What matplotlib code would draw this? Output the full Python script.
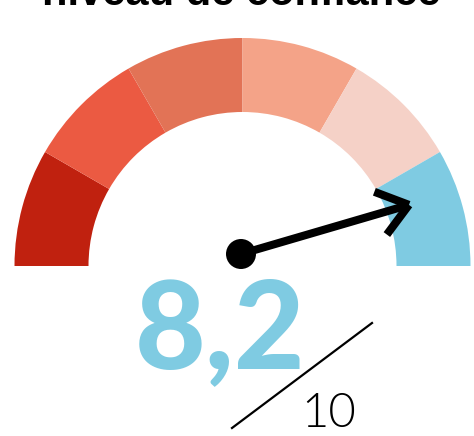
import numpy as np
import matplotlib
matplotlib.use("Agg")
import matplotlib.pyplot as plt
from matplotlib.patches import Wedge, Circle

title = "niveau de confiance"
segment_colors = ["#C0210F", "#EB5A42", "#E27356", "#F4A388", "#F5D1C7", "#7FCBE2"]
score_label = "8,2"
max_label = "10"
score = 8.2

W, H = 474, 436
fig = plt.figure(figsize=(W / 100, H / 100), dpi=100)
ax = fig.add_axes([0, 0, 1, 1])
ax.set_xlim(0, W)
ax.set_ylim(0, H)
ax.set_aspect("equal")
ax.axis("off")

cx, cy = 242.5, 170
r_out, r_in = 228, 154
n = len(segment_colors)
for i, c in enumerate(segment_colors):
    t1 = 180 - i * 180 / n
    t0 = 180 - (i + 1) * 180 / n
    ax.add_patch(Wedge((cx, cy), r_out, t0, t1, width=r_out - r_in,
                       facecolor=c, edgecolor="none"))

# needle
px, py = 241, 182
ang = np.deg2rad(16.3)
L = 175
tx, ty = px + L * np.cos(ang), py + L * np.sin(ang)
ax.plot([px, tx - 4 * np.cos(ang)], [py, ty - 4 * np.sin(ang)], color="black",
        lw=5.8, solid_capstyle="butt", zorder=3)
back = ang + np.pi
for d in (-37, 37):
    a = back + np.deg2rad(d)
    ax.plot([tx, tx + 37 * np.cos(a)], [ty, ty + 37 * np.sin(a)], color="black",
            lw=5.8, solid_capstyle="butt", solid_joinstyle="miter", zorder=3)
ax.add_patch(Circle((px, py), 15, facecolor="black", edgecolor="none", zorder=4))

ax.text(W / 2 + 4, H - 5, title, ha="center", va="baseline", fontsize=30,
        fontweight="bold", family=["Liberation Sans", "DejaVu Sans"], color="black")

ax.text(135, 68, score_label, ha="left", va="baseline", fontsize=88,
        fontweight="black", family=["Lato", "DejaVu Sans"], color="#7FCBE2")

ax.plot([232, 372], [436 - 428, 436 - 323], color="black", lw=1.6)
ax.text(301, 9, max_label, ha="left", va="baseline", fontsize=34,
        fontweight=300, family=["Lato", "DejaVu Sans"], color="black")

fig.savefig("out.png", dpi=100)
